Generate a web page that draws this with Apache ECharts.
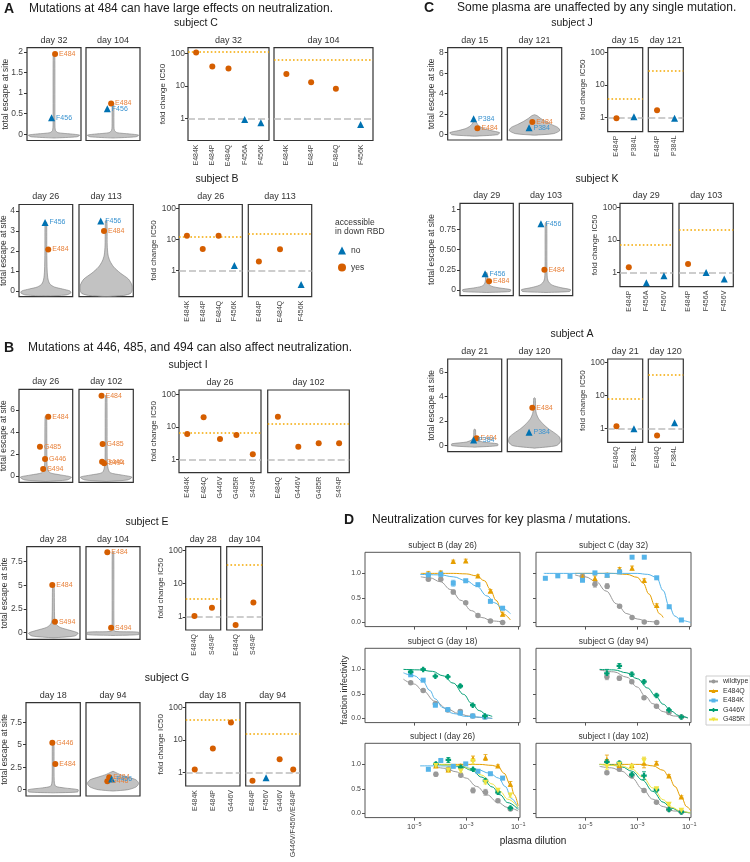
<!DOCTYPE html>
<html><head><meta charset="utf-8">
<script src="https://cdn.jsdelivr.net/npm/echarts@6/dist/echarts.min.js"></script>
<style>html,body{margin:0;padding:0;background:#fff}#c{width:750px;height:862px}</style>
</head><body><div id="c"></div><script>
// ======================= DATA: total escape per site (violins) =======================
const escC32_sites=['E484','F456'], escC32_values=[1.95,0.40], escC32_access=['yes','no'], escC32_jitter=[0.04,-0.09];
const escC32_density=[[-0.09,0],[-0.06,0.85],[-0.02,0.95],[0.01,0.6],[0.04,0.15],[0.1,0.05],[0.4,0.035],[1.95,0.03],[1.97,0]];
const escC104_sites=['F456','E484'], escC104_values=[0.62,0.75], escC104_access=['no','yes'], escC104_jitter=[-0.21,-0.07];
const escC104_density=[[-0.09,0],[-0.06,0.85],[-0.02,0.95],[0.01,0.6],[0.04,0.15],[0.1,0.05],[0.3,0.035],[0.75,0.03],[0.77,0]];
const escB26_sites=['F456','E484'], escB26_values=[3.43,2.08], escB26_access=['no','yes'], escB26_jitter=[-0.03,0.09];
const escB26_density=[[-0.25,0],[-0.2,0.75],[-0.1,0.93],[0,0.9],[0.1,0.62],[0.2,0.32],[0.35,0.15],[0.6,0.08],[1,0.05],[2,0.035],[3.43,0.03],[3.47,0]];
const escB113_sites=['F456','E484'], escB113_values=[3.5,3.0], escB113_access=['no','yes'], escB113_jitter=[-0.2,-0.08];
const escB113_density=[[-0.28,0],[-0.22,0.65],[-0.12,0.9],[0.05,0.96],[0.3,0.95],[0.6,0.82],[0.9,0.52],[1.2,0.28],[1.5,0.14],[1.8,0.07],[2.3,0.04],[3.5,0.03],[3.54,0]];
const escI26_sites=['E484','G485','G446','S494'], escI26_values=[5.39,2.66,1.55,0.64], escI26_access=['yes','yes','yes','yes'], escI26_jitter=[0.09,-0.22,-0.03,-0.1];
const escI26_density=[[-0.5,0],[-0.35,0.8],[-0.1,0.95],[0.1,0.55],[0.3,0.15],[0.7,0.06],[1.5,0.04],[5.39,0.03],[5.45,0]];
const escI102_sites=['E484','G485','G446','S494'], escI102_values=[7.3,2.9,1.3,1.15], escI102_access=['yes','yes','yes','yes'], escI102_jitter=[-0.17,-0.13,-0.15,-0.07];
const escI102_density=[[-0.5,0],[-0.35,0.8],[-0.1,0.95],[0.1,0.55],[0.3,0.15],[0.7,0.07],[1.5,0.04],[7.3,0.03],[7.36,0]];
const escE28_sites=['E484','S494'], escE28_values=[5.04,1.16], escE28_access=['yes','yes'], escE28_jitter=[-0.04,0.06];
const escE28_density=[[-0.55,0],[-0.35,0.8],[-0.05,0.93],[0.25,0.62],[0.55,0.26],[0.9,0.1],[1.4,0.05],[5.04,0.03],[5.1,0]];
const escE104_sites=['E484','S494'], escE104_values=[8.5,0.53], escE104_access=['yes','yes'], escE104_jitter=[-0.21,-0.07];
const escE104_density=[[-0.3,0],[-0.2,0.95],[0.05,0.95],[0.15,0.06],[0.5,0.035],[8.5,0.03],[8.57,0]];
const escG18_sites=['G446','E484'], escG18_values=[5.23,2.86], escG18_access=['yes','yes'], escG18_jitter=[-0.03,0.08];
const escG18_density=[[-0.35,0],[-0.25,0.9],[0,0.92],[0.2,0.4],[0.4,0.09],[1,0.04],[5.23,0.03],[5.3,0]];
const escG94_sites=['E484','G446','F456'], escG94_values=[1.38,0.93,1.19], escG94_access=['yes','yes','no'], escG94_jitter=[-0.14,-0.21,-0.05];
const escG94_density=[[-0.15,0],[0,0.55],[0.3,0.85],[0.7,0.95],[1.1,0.85],[1.4,0.55],[1.7,0.25],[1.95,0.08],[2.05,0]];
const escJ15_sites=['P384','E484'], escJ15_values=[1.56,0.62], escJ15_access=['no','yes'], escJ15_jitter=[-0.04,0.1];
const escJ15_density=[[-0.15,0],[0,0.85],[0.2,0.92],[0.4,0.6],[0.6,0.33],[0.8,0.19],[1,0.11],[1.25,0.05],[1.35,0]];
const escJ121_sites=['E484','P384'], escJ121_values=[1.24,0.68], escJ121_access=['yes','no'], escJ121_jitter=[-0.08,-0.2];
const escJ121_density=[[-0.05,0],[0.1,0.7],[0.4,0.93],[0.7,0.86],[1,0.62],[1.3,0.4],[1.6,0.22],[1.85,0.1],[1.95,0]];
const escK29_sites=['F456','E484'], escK29_values=[0.203,0.11], escK29_access=['no','yes'], escK29_jitter=[-0.06,0.09];
const escK29_density=[[-0.03,0],[-0.018,0.88],[0.005,0.9],[0.025,0.5],[0.045,0.2],[0.07,0.09],[0.11,0.05],[0.2,0.03],[0.22,0]];
const escK103_sites=['F456','E484'], escK103_values=[0.82,0.25], escK103_access=['no','yes'], escK103_jitter=[-0.19,-0.06];
const escK103_density=[[-0.03,0],[-0.018,0.88],[0.005,0.92],[0.03,0.55],[0.06,0.24],[0.1,0.1],[0.15,0.05],[0.3,0.035],[0.82,0.03],[0.84,0]];
const escA21_sites=['E484','P384'], escA21_values=[0.6,0.46], escA21_access=['yes','no'], escA21_jitter=[0.07,-0.04];
const escA21_density=[[-0.12,0],[0,0.85],[0.15,0.85],[0.3,0.3],[0.5,0.1],[0.8,0.04],[1.3,0.03],[1.35,0]];
const escA120_sites=['E484','P384'], escA120_values=[3.09,1.09], escA120_access=['yes','no'], escA120_jitter=[-0.08,-0.2];
const escA120_density=[[-0.2,0],[0,0.8],[0.3,0.95],[0.7,0.92],[1,0.76],[1.4,0.5],[1.8,0.3],[2.2,0.15],[2.6,0.07],[3,0.04],[3.85,0.03],[3.9,0]];

// ======================= DATA: fold change IC50 =======================
const fcC32_muts=['E484K','E484P','E484Q','F456A','F456K'], fcC32_values=[105,39,34,0.93,0.73], fcC32_access=['yes','yes','yes','no','no'], fcC32_limit=115;
const fcC104_muts=['E484K','E484P','E484Q','F456K'], fcC104_values=[23,12.8,8.1,0.65], fcC104_access=['yes','yes','yes','no'], fcC104_limit=62;
const fcB26_muts=['E484K','E484P','E484Q','F456K'], fcB26_values=[13.4,5.0,13.4,1.45], fcB26_access=['yes','yes','yes','no'], fcB26_limit=11.9;
const fcB113_muts=['E484P','E484Q','F456K'], fcB113_values=[1.95,4.9,0.36], fcB113_access=['yes','yes','no'], fcB113_limit=15;
const fcI26_muts=['E484K','E484Q','G446V','G485R','S494P'], fcI26_values=[6.0,19.6,4.2,5.6,1.43], fcI26_access=['yes','yes','yes','yes','yes'], fcI26_limit=6.8;
const fcI102_muts=['E484Q','G446V','G485R','S494P'], fcI102_values=[20.5,2.45,3.1,3.15], fcI102_access=['yes','yes','yes','yes'], fcI102_limit=12.2;
const fcE28_muts=['E484Q','S494P'], fcE28_values=[1.05,1.87], fcE28_access=['yes','yes'], fcE28_limit=3.6;
const fcE104_muts=['E484Q','S494P'], fcE104_values=[0.56,2.7], fcE104_access=['yes','yes'], fcE104_limit=37;
const fcG18_muts=['E484K','E484P','G446V'], fcG18_values=[1.24,5.5,34], fcG18_access=['yes','yes','yes'], fcG18_limit=42;
const fcG94_muts=['E484P','F456V','G446V','G446V/F456V/E484P'], fcG94_values=[0.56,0.7,2.56,1.24], fcG94_access=['yes','no','yes','yes'], fcG94_limit=15;
const fcJ15_muts=['E484P','P384L'], fcJ15_values=[0.96,1.07], fcJ15_access=['yes','no'], fcJ15_limit=3.7;
const fcJ121_muts=['E484P','P384L'], fcJ121_values=[1.68,0.96], fcJ121_access=['yes','no'], fcJ121_limit=27;
const fcK29_muts=['E484P','F456A','F456V'], fcK29_values=[1.46,0.49,0.81], fcK29_access=['yes','no','no'], fcK29_limit=7;
const fcK103_muts=['E484P','F456A','F456V'], fcK103_values=[1.85,1.01,0.64], fcK103_access=['yes','no','no'], fcK103_limit=21;
const fcA21_muts=['E484Q','P384L'], fcA21_values=[1.18,1.0], fcA21_access=['yes','no'], fcA21_limit=8.3;
const fcA120_muts=['E484Q','P384L'], fcA120_values=[0.63,1.52], fcA120_access=['yes','no'], fcA120_limit=42;

// ======================= DATA: neutralization curves (log10 plasma dilution) =======================
const nB26_dil=[-4.46,-3.98,-3.5,-3.02,-2.55,-2.07,-1.6];
const nB26_wt=[0.88,0.88,0.62,0.40,0.14,0.03,0.0], nB26_wt_err=[0.03,0.03,0.04,0.02,0.02,0.02,0.01];
const nB26_E484Q=[1.0,1.02,1.25,1.26,0.95,0.64,0.17], nB26_E484Q_err=[0.04,0.03,0.02,0.03,0.02,0.03,0.04];
const nB26_E484K=[0.97,0.98,0.80,0.85,0.77,0.43,0.29], nB26_E484K_err=[0.02,0.06,0.06,0.02,0.02,0.02,0.03];
const nB26_wt_fit=[[-4.75,0.93],[-4.4,0.91],[-4.0,0.83],[-3.6,0.67],[-3.2,0.45],[-2.8,0.24],[-2.4,0.1],[-2.0,0.03],[-1.5,0.0]];
const nB26_E484Q_fit=[[-4.75,1.0],[-3.5,1.0],[-3.0,0.99],[-2.6,0.95],[-2.3,0.85],[-2.08,0.68],[-1.85,0.45],[-1.6,0.18],[-1.3,0.05]];
const nB26_E484K_fit=[[-4.78,0.98],[-4.0,0.97],[-3.5,0.93],[-3.0,0.85],[-2.6,0.74],[-2.2,0.54],[-1.9,0.4],[-1.6,0.28],[-1.3,0.18]];

const nC32_dil=[-5.11,-4.63,-4.16,-3.68,-3.2,-2.73,-2.25];
const nC32_dilK=[-6.54,-6.06,-5.59,-5.11,-4.63,-4.16,-3.68,-3.2,-2.73,-2.25,-1.77,-1.3];
const nC32_wt=[0.93,0.78,0.74,0.33,0.10,0.01,0.0], nC32_wt_err=[0.05,0.06,0.05,0.02,0.02,0.01,0.01];
const nC32_E484Q=[0.93,0.9,0.97,1.09,1.11,0.86,0.35], nC32_E484Q_err=[0.05,0.05,0.03,0.03,0.04,0.03,0.03];
const nC32_E484K=[0.90,0.95,0.94,0.86,1.01,0.96,1.03,1.33,1.33,0.91,0.32,0.05], nC32_E484K_err=[0.02,0.02,0.02,0.02,0.02,0.02,0.02,0.02,0.02,0.02,0.02,0.02];
const nC32_wt_fit=[[-5.4,0.97],[-5.0,0.93],[-4.6,0.84],[-4.2,0.64],[-3.8,0.38],[-3.4,0.18],[-3.0,0.07],[-2.6,0.02],[-2.2,0.0]];
const nC32_E484Q_fit=[[-5.4,1.0],[-4.0,1.0],[-3.4,0.98],[-3.0,0.92],[-2.77,0.8],[-2.55,0.58],[-2.31,0.33],[-2.15,0.18],[-2.0,0.1]];
const nC32_E484K_fit=[[-6.6,1.0],[-3.0,1.0],[-2.6,0.98],[-2.26,0.92],[-2.0,0.65],[-1.78,0.34],[-1.55,0.13],[-1.31,0.04],[-0.95,0.0]];

const nG18_dil=[-5.14,-4.66,-4.19,-3.71,-3.23,-2.75,-2.28];
const nG18_wt=[0.73,0.57,0.30,0.17,0.14,0.05,0.03], nG18_wt_err=[0.02,0.02,0.02,0.02,0.04,0.02,0.01];
const nG18_E484K=[0.89,0.78,0.27,0.18,0.11,0.05,0.03], nG18_E484K_err=[0.02,0.02,0.03,0.02,0.02,0.02,0.01];
const nG18_G446V=[0.95,1.0,0.86,0.85,0.66,0.27,0.05], nG18_G446V_err=[0.03,0.02,0.02,0.02,0.03,0.02,0.02];
const nG18_wt_fit=[[-5.42,0.8],[-5.0,0.7],[-4.68,0.57],[-4.2,0.35],[-3.72,0.19],[-3.3,0.1],[-2.9,0.05],[-2.5,0.02],[-2.0,0.0]];
const nG18_E484K_fit=[[-5.42,0.93],[-5.0,0.87],[-4.68,0.76],[-4.4,0.57],[-4.2,0.4],[-3.9,0.22],[-3.5,0.1],[-3.0,0.04],[-2.0,0.0]];
const nG18_G446V_fit=[[-5.42,1.0],[-4.8,0.99],[-4.3,0.96],[-3.9,0.87],[-3.5,0.72],[-3.1,0.49],[-2.8,0.31],[-2.5,0.16],[-2.2,0.07],[-2.0,0.04]];

const nG94_dil=[-4.17,-3.69,-3.21,-2.74,-2.26,-1.78,-1.3];
const nG94_wt=[0.85,0.82,0.75,0.42,0.25,0.12,0.03], nG94_wt_err=[0.06,0.04,0.03,0.03,0.02,0.02,0.01];
const nG94_G446V=[0.92,1.07,0.9,0.75,0.47,0.17,0.03], nG94_G446V_err=[0.08,0.05,0.04,0.03,0.03,0.03,0.02];
const nG94_wt_fit=[[-4.45,0.99],[-3.9,0.95],[-3.4,0.84],[-3.0,0.64],[-2.7,0.46],[-2.4,0.3],[-2.0,0.14],[-1.6,0.05],[-1.05,0.01]];
const nG94_G446V_fit=[[-4.45,1.0],[-3.9,0.99],[-3.4,0.93],[-3.0,0.81],[-2.6,0.62],[-2.3,0.46],[-2.0,0.29],[-1.7,0.15],[-1.4,0.06],[-1.05,0.01]];

const nI26_dil=[-4.17,-3.69,-3.21,-2.74,-2.26,-1.78,-1.3];
const nI26_dilK=[-4.46,-3.98,-3.5,-3.02,-2.55,-2.07,-1.6];
const nI26_wt=[0.8,0.9,0.78,0.47,0.43,0.26,0.09], nI26_wt_err=[0.04,0.03,0.03,0.05,0.06,0.03,0.03];
const nI26_E484Q=[0.97,0.89,0.97,1.12,1.14,0.97,0.6], nI26_E484Q_err=[0.03,0.03,0.03,0.05,0.06,0.02,0.05];
const nI26_E484K=[0.9,1.08,0.96,1.01,0.86,0.81,0.72], nI26_E484K_err=[0.02,0.02,0.02,0.02,0.02,0.02,0.02];
const nI26_G446V=[1.01,1.09,0.94,0.9,0.67,0.43,0.11], nI26_G446V_err=[0.03,0.05,0.03,0.02,0.03,0.03,0.03];
const nI26_G485R=[0.97,0.88,0.86,1.06,0.63,0.47,0.37], nI26_G485R_err=[0.03,0.03,0.03,0.05,0.03,0.03,0.04];
const nI26_wt_fit=[[-4.2,0.95],[-3.8,0.92],[-3.4,0.85],[-3.0,0.72],[-2.6,0.55],[-2.2,0.38],[-1.8,0.23],[-1.4,0.12],[-1.0,0.05]];
const nI26_E484Q_fit=[[-4.2,1.0],[-2.5,1.0],[-2.0,0.98],[-1.77,0.95],[-1.55,0.82],[-1.29,0.58],[-1.15,0.38],[-1.0,0.15]];
const nI26_E484K_fit=[[-4.78,0.97],[-4.0,0.97],[-3.2,0.95],[-2.6,0.9],[-2.1,0.82],[-1.75,0.72],[-1.5,0.55],[-1.25,0.3],[-1.0,0.1]];
const nI26_G446V_fit=[[-4.2,1.0],[-3.6,0.99],[-3.2,0.96],[-2.8,0.88],[-2.4,0.74],[-2.0,0.54],[-1.7,0.38],[-1.4,0.22],[-1.0,0.08]];
const nI26_G485R_fit=[[-4.2,1.0],[-3.6,0.99],[-3.2,0.97],[-2.8,0.9],[-2.4,0.78],[-2.0,0.6],[-1.7,0.45],[-1.4,0.29],[-1.0,0.12]];

const nI102_dil=[-4.17,-3.69,-3.21,-2.74,-2.26,-1.78,-1.3];
const nI102_wt=[0.83,0.9,0.77,0.47,0.23,0.08,0.03], nI102_wt_err=[0.03,0.03,0.02,0.02,0.02,0.02,0.01];
const nI102_E484Q=[1.1,0.98,0.98,1.03,1.03,0.77,0.34], nI102_E484Q_err=[0.09,0.05,0.02,0.1,0.03,0.02,0.02];
const nI102_G446V=[1.05,1.03,0.79,0.77,0.48,0.08,0.03], nI102_G446V_err=[0.05,0.03,0.03,0.08,0.03,0.02,0.02];
const nI102_G485R=[0.95,1.0,0.95,1.07,0.5,0.18,0.06], nI102_G485R_err=[0.05,0.03,0.03,0.08,0.03,0.02,0.02];
const nI102_wt_fit=[[-4.45,0.96],[-4.0,0.93],[-3.6,0.86],[-3.2,0.72],[-2.8,0.5],[-2.4,0.29],[-2.0,0.14],[-1.6,0.05],[-1.0,0.01]];
const nI102_E484Q_fit=[[-4.45,1.0],[-2.8,1.0],[-2.4,0.97],[-2.0,0.88],[-1.78,0.75],[-1.55,0.55],[-1.3,0.33],[-1.1,0.14],[-0.95,0.06]];
const nI102_G446V_fit=[[-4.45,1.0],[-4.0,0.99],[-3.6,0.95],[-3.2,0.86],[-2.8,0.68],[-2.4,0.45],[-2.0,0.23],[-1.7,0.11],[-1.3,0.03],[-0.95,0.01]];
const nI102_G485R_fit=[[-4.45,1.0],[-3.6,0.97],[-3.2,0.9],[-2.8,0.75],[-2.4,0.52],[-2.0,0.28],[-1.7,0.13],[-1.3,0.04],[-0.95,0.01]];

const dilutionTicks=[-5,-3,-1];
const infectivityTicks=[0,0.5,1];
const foldTicks=[0,1,2]; // log10 of 1, 10, 100

// ======================= STYLE & BUILDERS =======================
const FONT='"Liberation Sans", Arial, Helvetica, sans-serif';
const COL_YES='#D55E00', COL_NO='#0072B2', LAB_YES='#E8823C', LAB_NO='#3A93D0';
const VCOL={wildtype:'#999999',E484Q:'#E69F00',E484K:'#56B4E9',G446V:'#009E73',G485R:'#F0E442'};
const VSYM={wildtype:'circle',E484Q:'triangle',E484K:'rect',G446V:'path://M3,0L7,0L7,3L10,3L10,7L7,7L7,10L3,10L3,7L0,7L0,3L3,3Z',G485R:'path://M0,0L10,0L5,9Z'};

const option={animation:false,backgroundColor:'#fff',textStyle:{fontFamily:FONT},grid:[],xAxis:[],yAxis:[],series:[],graphic:{elements:[]},legend:[]};

function txt(s,x,y,o){o=o||{};
  option.graphic.elements.push({type:'text',x:x,y:y,rotation:o.rot||0,silent:true,z:50,
    style:{text:s,fill:o.color||'#1a1a1a',fontSize:o.size||10,fontFamily:FONT,fontWeight:o.weight||'normal',
      align:o.align||'center',verticalAlign:'middle'}});}
function addGrid(b,col,w){option.grid.push({left:b[0],top:b[1],width:b[2],height:b[3],show:true,borderColor:col,borderWidth:w,backgroundColor:'rgba(0,0,0,0)',containLabel:false});return option.grid.length-1;}

function violinPanel(box,yr,ticks,fmt,d,first,nameX){
  const gi=addGrid(box,'#333',1.2);
  const xi=option.xAxis.push({gridIndex:gi,type:'value',min:-1,max:1,show:false,axisLine:{onZero:false}})-1;
  const yi=option.yAxis.push({gridIndex:gi,type:'value',min:yr[0],max:yr[1],axisLine:{show:false,onZero:false},splitLine:{show:false},
    axisTick:{show:first,customValues:ticks,length:3,lineStyle:{color:'#333'}},
    axisLabel:{show:first,customValues:ticks,formatter:fmt,fontSize:8.5,color:'#444',margin:4,fontFamily:FONT}})-1;
  if(first) txt('total escape at site',nameX,box[1]+box[3]/2,{size:8.5,rot:Math.PI/2,color:'#333'});
  const prof=d.density;
  option.series.push({type:'custom',xAxisIndex:xi,yAxisIndex:yi,silent:true,z:1,data:prof.map(p=>[p[1],p[0]]),
    renderItem:(params,api)=>{ if(params.dataIndex!==0) return null; const pts=[];
      for(const p of prof) pts.push(api.coord([p[1],p[0]]));
      for(let i=prof.length-1;i>=0;i--) pts.push(api.coord([-prof[i][1],prof[i][0]]));
      return {type:'polygon',shape:{points:pts,smooth:0.25},style:{fill:'#C2C2C2',stroke:'#7a7a7a',lineWidth:0.6}};}});
  ['yes','no'].forEach(acc=>{const data=[];
    d.sites.forEach((s,i)=>{if(d.access[i]===acc) data.push({name:s,value:[d.jitter[i],d.values[i]]});});
    option.series.push({type:'scatter',name:acc,xAxisIndex:xi,yAxisIndex:yi,data:data,symbol:acc==='yes'?'circle':'triangle',
      symbolSize:acc==='yes'?6:7,itemStyle:{color:acc==='yes'?COL_YES:COL_NO,opacity:1},z:3,
      label:{show:true,position:'right',distance:1,formatter:p=>p.name,fontSize:7,fontFamily:FONT,color:acc==='yes'?LAB_YES:LAB_NO}});});
}
function foldPanel(box,yr,d,first){
  const gi=addGrid(box,'#333',1.2);
  const xi=option.xAxis.push({gridIndex:gi,type:'category',data:d.muts,axisLine:{show:false,onZero:false},axisTick:{show:false},splitLine:{show:false},
    axisLabel:{rotate:90,interval:0,fontSize:7,color:'#444',margin:4,fontFamily:FONT}})-1;
  const yi=option.yAxis.push({gridIndex:gi,type:'value',min:yr[0],max:yr[1],axisLine:{show:false,onZero:false},splitLine:{show:false},
    axisTick:{show:first,customValues:foldTicks,length:3,lineStyle:{color:'#333'}},
    axisLabel:{show:first,customValues:foldTicks,formatter:v=>String(Math.round(Math.pow(10,v))),fontSize:8.5,color:'#444',margin:3,fontFamily:FONT}})-1;
  if(first) txt('fold change IC50',box[0]-25,box[1]+box[3]/2,{size:8,rot:Math.PI/2,color:'#333'});
  ['yes','no'].forEach((acc,k)=>{const data=[];
    d.muts.forEach((m,i)=>{if(d.access[i]===acc) data.push([i,Math.log10(d.values[i])]);});
    const s={type:'scatter',name:acc,xAxisIndex:xi,yAxisIndex:yi,data:data,symbol:acc==='yes'?'circle':'triangle',
      symbolSize:acc==='yes'?6:7,itemStyle:{color:acc==='yes'?COL_YES:COL_NO,opacity:1},z:3};
    if(k===0) s.markLine={silent:true,symbol:['none','none'],label:{show:false},animation:false,z:2,
      data:[{yAxis:0,lineStyle:{type:[7,3],color:'#BDBDBD',width:1.5}},{yAxis:Math.log10(d.limit),lineStyle:{type:[1.6,2.2],color:'#F4A800',width:1.7}}]};
    option.series.push(s);});
}
function neutPanel(box,showY,showX,list){
  const gi=addGrid(box,'#555',1);
  const xi=option.xAxis.push({gridIndex:gi,type:'value',min:-6.9,max:-0.93,axisLine:{show:false,onZero:false},splitLine:{show:false},
    axisTick:{show:true,customValues:dilutionTicks,length:3,lineStyle:{color:'#555'}},
    axisLabel:{show:showX,customValues:dilutionTicks,margin:4,formatter:v=>'{b|10}{s|\u2212'+Math.abs(v)+'}',
      rich:{b:{fontSize:7.5,color:'#444',fontFamily:FONT},s:{fontSize:5.5,color:'#444',fontFamily:FONT,verticalAlign:'top',padding:[0,0,5,0]}}}})-1;
  const yi=option.yAxis.push({gridIndex:gi,type:'value',min:-0.085,max:1.43,axisLine:{show:false,onZero:false},splitLine:{show:false},
    axisTick:{show:true,customValues:infectivityTicks,length:3,lineStyle:{color:'#555'}},
    axisLabel:{show:showY,customValues:infectivityTicks,formatter:v=>v.toFixed(1),fontSize:7,color:'#444',margin:4,fontFamily:FONT}})-1;
  list.forEach(s=>{const c=VCOL[s.name];
    option.series.push({type:'line',name:s.name,xAxisIndex:xi,yAxisIndex:yi,data:s.fit,smooth:0.4,smoothMonotone:'x',
      symbol:VSYM[s.name],symbolSize:5,showSymbol:false,lineStyle:{color:c,width:1},itemStyle:{color:c},z:2,silent:true});});
  list.forEach(s=>{const c=VCOL[s.name];
    option.series.push({type:'custom',xAxisIndex:xi,yAxisIndex:yi,silent:true,z:3,data:s.x.map((x,i)=>[x,s.y[i],s.err[i]]),
      renderItem:(params,api)=>{const x=api.value(0),y=api.value(1),e=api.value(2);const a=api.coord([x,y-e]),b=api.coord([x,y+e]);
        const st={stroke:c,lineWidth:0.8};
        return {type:'group',children:[{type:'line',shape:{x1:a[0],y1:a[1],x2:b[0],y2:b[1]},style:st},
          {type:'line',shape:{x1:a[0]-2,y1:a[1],x2:a[0]+2,y2:a[1]},style:st},{type:'line',shape:{x1:b[0]-2,y1:b[1],x2:b[0]+2,y2:b[1]},style:st}]};}});
    option.series.push({type:'scatter',name:s.name,xAxisIndex:xi,yAxisIndex:yi,data:s.x.map((x,i)=>[x,s.y[i]]),
      symbol:VSYM[s.name],symbolSize:s.name==='E484K'?5:5.5,itemStyle:{color:c,opacity:1},z:4});});
}

// ======================= LAYOUT =======================
const intFmt=v=>String(v);
const kFmt=v=>(v===0||v===1)?String(v):v.toFixed(2);
const subjects=[
 {t:'subject C',tx:196,ty:23,nx:6,v:[[27,47.7,54,92.8],[86,47.7,54,92.8]],vy:[-0.15,2.1],vt:[0,0.5,1,1.5,2],vf:intFmt,
  f:[[188,47.7,81,92.8],[274,47.7,99,92.8]],fy:[-0.68,2.17],days:['day 32','day 104'],
  esc:[{sites:escC32_sites,values:escC32_values,access:escC32_access,jitter:escC32_jitter,density:escC32_density},{sites:escC104_sites,values:escC104_values,access:escC104_access,jitter:escC104_jitter,density:escC104_density}],
  fc:[{muts:fcC32_muts,values:fcC32_values,access:fcC32_access,limit:fcC32_limit},{muts:fcC104_muts,values:fcC104_values,access:fcC104_access,limit:fcC104_limit}]},
 {t:'subject B',tx:217,ty:179,nx:4,v:[[19,204.5,53.7,92.2],[79,204.5,54.3,92.2]],vy:[-0.285,4.33],vt:[0,1,2,3,4],vf:intFmt,
  f:[[179,204.5,63.3,92.2],[248.3,204.5,63.4,92.2]],fy:[-0.84,2.13],days:['day 26','day 113'],
  esc:[{sites:escB26_sites,values:escB26_values,access:escB26_access,jitter:escB26_jitter,density:escB26_density},{sites:escB113_sites,values:escB113_values,access:escB113_access,jitter:escB113_jitter,density:escB113_density}],
  fc:[{muts:fcB26_muts,values:fcB26_values,access:fcB26_access,limit:fcB26_limit},{muts:fcB113_muts,values:fcB113_values,access:fcB113_access,limit:fcB113_limit}]},
 {t:'subject I',tx:188,ty:365,nx:4,v:[[19,389.3,53.7,93],[79,389.3,54.3,93]],vy:[-0.57,7.88],vt:[0,2,4,6],vf:intFmt,
  f:[[179,390,82,82.7],[267.7,390,81.6,82.7]],fy:[-0.41,2.13],days:['day 26','day 102'],
  esc:[{sites:escI26_sites,values:escI26_values,access:escI26_access,jitter:escI26_jitter,density:escI26_density},{sites:escI102_sites,values:escI102_values,access:escI102_access,jitter:escI102_jitter,density:escI102_density}],
  fc:[{muts:fcI26_muts,values:fcI26_values,access:fcI26_access,limit:fcI26_limit},{muts:fcI102_muts,values:fcI102_values,access:fcI102_access,limit:fcI102_limit}]},
 {t:'subject E',tx:147,ty:522,nx:5,v:[[26.7,546.7,53.3,92.6],[86,546.7,54,92.6]],vy:[-0.70,9.08],vt:[0,2.5,5,7.5],vf:intFmt,
  f:[[185.7,546.7,35,83.3],[226.7,546.7,35.6,83.3]],fy:[-0.40,2.12],days:['day 28','day 104'],
  esc:[{sites:escE28_sites,values:escE28_values,access:escE28_access,jitter:escE28_jitter,density:escE28_density},{sites:escE104_sites,values:escE104_values,access:escE104_access,jitter:escE104_jitter,density:escE104_density}],
  fc:[{muts:fcE28_muts,values:fcE28_values,access:fcE28_access,limit:fcE28_limit},{muts:fcE104_muts,values:fcE104_values,access:fcE104_access,limit:fcE104_limit}]},
 {t:'subject G',tx:167,ty:678,nx:5,v:[[26,702.7,54.3,93.3],[86,702.7,54,93.3]],vy:[-0.70,9.67],vt:[0,2.5,5,7.5],vf:intFmt,
  f:[[185.7,702.7,54.3,83.3],[245.7,702.7,54.3,83.3]],fy:[-0.41,2.14],days:['day 18','day 94'],
  esc:[{sites:escG18_sites,values:escG18_values,access:escG18_access,jitter:escG18_jitter,density:escG18_density},{sites:escG94_sites,values:escG94_values,access:escG94_access,jitter:escG94_jitter,density:escG94_density}],
  fc:[{muts:fcG18_muts,values:fcG18_values,access:fcG18_access,limit:fcG18_limit},{muts:fcG94_muts,values:fcG94_values,access:fcG94_access,limit:fcG94_limit}]},
 {t:'subject J',tx:572,ty:23,nx:432,v:[[447.7,47.7,54,92.3],[507.3,47.7,54.4,92.3]],vy:[-0.52,8.49],vt:[0,2,4,6,8],vf:intFmt,
  f:[[607.7,47.7,35,84],[648.3,47.7,35,84]],fy:[-0.43,2.14],days:['day 15','day 121'],
  esc:[{sites:escJ15_sites,values:escJ15_values,access:escJ15_access,jitter:escJ15_jitter,density:escJ15_density},{sites:escJ121_sites,values:escJ121_values,access:escJ121_access,jitter:escJ121_jitter,density:escJ121_density}],
  fc:[{muts:fcJ15_muts,values:fcJ15_values,access:fcJ15_access,limit:fcJ15_limit},{muts:fcJ121_muts,values:fcJ121_values,access:fcJ121_access,limit:fcJ121_limit}]},
 {t:'subject K',tx:597,ty:179,nx:432,v:[[460,203.3,53.3,92.4],[519.3,203.3,53.4,92.4]],vy:[-0.07,1.074],vt:[0,0.25,0.5,0.75,1],vf:kFmt,
  f:[[620,203.3,52.7,83.4],[679,203.3,54.3,83.4]],fy:[-0.43,2.12],days:['day 29','day 103'],
  esc:[{sites:escK29_sites,values:escK29_values,access:escK29_access,jitter:escK29_jitter,density:escK29_density},{sites:escK103_sites,values:escK103_values,access:escK103_access,jitter:escK103_jitter,density:escK103_density}],
  fc:[{muts:fcK29_muts,values:fcK29_values,access:fcK29_access,limit:fcK29_limit},{muts:fcK103_muts,values:fcK103_values,access:fcK103_access,limit:fcK103_limit}]},
 {t:'subject A',tx:572,ty:334,nx:432,v:[[447.7,359,54,92.7],[507.3,359,54.4,92.7]],vy:[-0.49,7.05],vt:[0,2,4,6],vf:intFmt,
  f:[[607.7,359,35,83.3],[648.3,359,35,83.3]],fy:[-0.41,2.11],days:['day 21','day 120'],
  esc:[{sites:escA21_sites,values:escA21_values,access:escA21_access,jitter:escA21_jitter,density:escA21_density},{sites:escA120_sites,values:escA120_values,access:escA120_access,jitter:escA120_jitter,density:escA120_density}],
  fc:[{muts:fcA21_muts,values:fcA21_values,access:fcA21_access,limit:fcA21_limit},{muts:fcA120_muts,values:fcA120_values,access:fcA120_access,limit:fcA120_limit}]}
];
subjects.forEach(S=>{
  txt(S.t,S.tx,S.ty,{size:10.5});
  [0,1].forEach(k=>{
    violinPanel(S.v[k],S.vy,S.vt,S.vf,S.esc[k],k===0,S.nx);
    foldPanel(S.f[k],S.fy,S.fc[k],k===0);
    txt(S.days[k],S.v[k][0]+S.v[k][2]/2,S.v[k][1]-7.5,{size:9,color:'#333'});
    txt(S.days[k],S.f[k][0]+S.f[k][2]/2,S.f[k][1]-7.5,{size:9,color:'#333'});
  });
});

// Neutralization panels
const L=365,R=536,W=155,H=74.3;
neutPanel([L,552.3,W,H],true,false,[
 {name:'wildtype',x:nB26_dil,y:nB26_wt,err:nB26_wt_err,fit:nB26_wt_fit},
 {name:'E484Q',x:nB26_dil,y:nB26_E484Q,err:nB26_E484Q_err,fit:nB26_E484Q_fit},
 {name:'E484K',x:nB26_dil,y:nB26_E484K,err:nB26_E484K_err,fit:nB26_E484K_fit}]);
neutPanel([R,552.3,W,H],false,false,[
 {name:'wildtype',x:nC32_dil,y:nC32_wt,err:nC32_wt_err,fit:nC32_wt_fit},
 {name:'E484Q',x:nC32_dil,y:nC32_E484Q,err:nC32_E484Q_err,fit:nC32_E484Q_fit},
 {name:'E484K',x:nC32_dilK,y:nC32_E484K,err:nC32_E484K_err,fit:nC32_E484K_fit}]);
neutPanel([L,648.3,W,H],true,false,[
 {name:'wildtype',x:nG18_dil,y:nG18_wt,err:nG18_wt_err,fit:nG18_wt_fit},
 {name:'E484K',x:nG18_dil,y:nG18_E484K,err:nG18_E484K_err,fit:nG18_E484K_fit},
 {name:'G446V',x:nG18_dil,y:nG18_G446V,err:nG18_G446V_err,fit:nG18_G446V_fit}]);
neutPanel([R,648.3,W,H],false,false,[
 {name:'wildtype',x:nG94_dil,y:nG94_wt,err:nG94_wt_err,fit:nG94_wt_fit},
 {name:'G446V',x:nG94_dil,y:nG94_G446V,err:nG94_G446V_err,fit:nG94_G446V_fit}]);
neutPanel([L,743.3,W,H],true,true,[
 {name:'wildtype',x:nI26_dil,y:nI26_wt,err:nI26_wt_err,fit:nI26_wt_fit},
 {name:'E484Q',x:nI26_dil,y:nI26_E484Q,err:nI26_E484Q_err,fit:nI26_E484Q_fit},
 {name:'E484K',x:nI26_dilK,y:nI26_E484K,err:nI26_E484K_err,fit:nI26_E484K_fit},
 {name:'G446V',x:nI26_dil,y:nI26_G446V,err:nI26_G446V_err,fit:nI26_G446V_fit},
 {name:'G485R',x:nI26_dil,y:nI26_G485R,err:nI26_G485R_err,fit:nI26_G485R_fit}]);
neutPanel([R,743.3,W,H],false,true,[
 {name:'wildtype',x:nI102_dil,y:nI102_wt,err:nI102_wt_err,fit:nI102_wt_fit},
 {name:'E484Q',x:nI102_dil,y:nI102_E484Q,err:nI102_E484Q_err,fit:nI102_E484Q_fit},
 {name:'G446V',x:nI102_dil,y:nI102_G446V,err:nI102_G446V_err,fit:nI102_G446V_fit},
 {name:'G485R',x:nI102_dil,y:nI102_G485R,err:nI102_G485R_err,fit:nI102_G485R_fit}]);

// Texts
txt('A',9,9,{size:14,weight:'bold'});
txt('Mutations at 484 can have large effects on neutralization.',29,9,{size:12,align:'left'});
txt('B',9,348,{size:14,weight:'bold'});
txt('Mutations at 446, 485, and 494 can also affect neutralization.',28,348,{size:12,align:'left'});
txt('C',429,8,{size:14,weight:'bold'});
txt('Some plasma are unaffected by any single mutation.',457,8,{size:12,align:'left'});
txt('D',349,520,{size:14,weight:'bold'});
txt('Neutralization curves for key plasma / mutations.',372,520,{size:12,align:'left'});
txt('accessible',335,223,{size:8.5,align:'left',color:'#333'});
txt('in down RBD',335,232,{size:8.5,align:'left',color:'#333'});
[['subject B (day 26)',L,546],['subject C (day 32)',R,546],['subject G (day 18)',L,641.7],['subject G (day 94)',R,641.7],['subject I (day 26)',L,736.7],['subject I (day 102)',R,736.7]]
 .forEach(a=>txt(a[0],a[1]+W/2,a[2],{size:8.5,color:'#333'}));
txt('plasma dilution',533,841,{size:10});
txt('fraction infectivity',345,690,{size:9,rot:Math.PI/2,color:'#333'});

option.legend.push({data:['no','yes'],orient:'vertical',left:333,top:241,itemWidth:8,itemHeight:8,itemGap:8,selectedMode:false,
  textStyle:{fontSize:8.5,color:'#333',fontFamily:FONT}});
option.legend.push({data:['wildtype','E484Q','E484K','G446V','G485R'],orient:'vertical',left:706,top:676,itemWidth:9,itemHeight:5,itemGap:2.5,
  padding:[2,2,2,2],borderColor:'#ccc',borderWidth:1,selectedMode:false,textStyle:{fontSize:7,color:'#333',fontFamily:FONT}});

const chart=echarts.init(document.getElementById('c'),null,{renderer:'canvas'});
chart.setOption(option);
</script></body></html>
